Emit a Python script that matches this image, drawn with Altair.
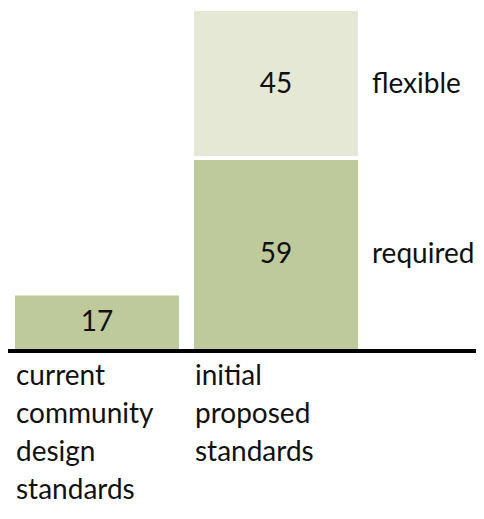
import altair as alt
import pandas as pd

groups = ["current community design standards", "initial proposed standards", "initial proposed standards"]
types = ["required", "required", "flexible"]
values = [17, 59, 45]
type_order = ["required", "flexible"]
type_colors = ["#BFCA9C", "#E4E8D5"]

df = pd.DataFrame({"group": groups, "type": types, "value": values,
                   "order": [type_order.index(t) for t in types]})

FONT = "Lato"

base = alt.Chart(df).transform_stack(
    stack="value", groupby=["group"], as_=["y0", "y1"],
    sort=[alt.SortField("order", order="ascending")]
).transform_calculate(mid="(datum.y0 + datum.y1) / 2")

xscale = alt.Scale(domain=groups[:2], paddingInner=0.0838, paddingOuter=0.3492, align=0.056)

x = alt.X("group:N", title=None, scale=xscale,
          axis=alt.Axis(domain=False, ticks=False, grid=False, labelAngle=0,
                        labelExpr="split(datum.label, ' ')", labelAlign="left",
                        labelOffset=-81, labelBaseline="alphabetic", labelPadding=33,
                        labelFont=FONT, labelFontSize=28, labelLineHeight=38,
                        labelColor="#111111", labelLimit=300))

yscale = alt.Scale(domain=[0, 104], nice=False, zero=True)

bars = base.mark_bar().encode(
    x=x,
    y=alt.Y("y0:Q", scale=yscale, axis=None),
    y2="y1:Q",
    color=alt.Color("type:N", scale=alt.Scale(domain=type_order, range=type_colors), legend=None),
)

gap = base.transform_filter(alt.datum.type == "flexible").mark_tick(
    color="white", thickness=4, size=170, orient="horizontal", opacity=1
).encode(
    x=x,
    y=alt.Y("y0:Q", scale=yscale, axis=None),
)

nums = base.mark_text(font=FONT, fontSize=28, color="#111111", baseline="middle").encode(
    x=x,
    y=alt.Y("mid:Q", scale=yscale, axis=None),
    text="value:Q",
)

side = base.transform_filter(alt.datum.group == groups[1]).mark_text(
    font=FONT, fontSize=28, color="#111111", baseline="middle", align="left", dx=96
).encode(
    x=x,
    y=alt.Y("mid:Q", scale=yscale, axis=None),
    text="type:N",
)

rule = alt.Chart(df).mark_rule(color="black", strokeWidth=4).encode(y=alt.datum(0))

chart = alt.layer(bars, gap, nums, side, rule).properties(
    width=468, height=340,
    padding={"left": 0, "top": 3, "right": 0, "bottom": 156},
    autosize=alt.AutoSizeParams(type="none"),
    background="white",
).configure_view(strokeWidth=0, stroke="transparent").configure_axis(grid=False)

chart.save("out.html", embed_options={"renderer": "svg", "actions": False})
